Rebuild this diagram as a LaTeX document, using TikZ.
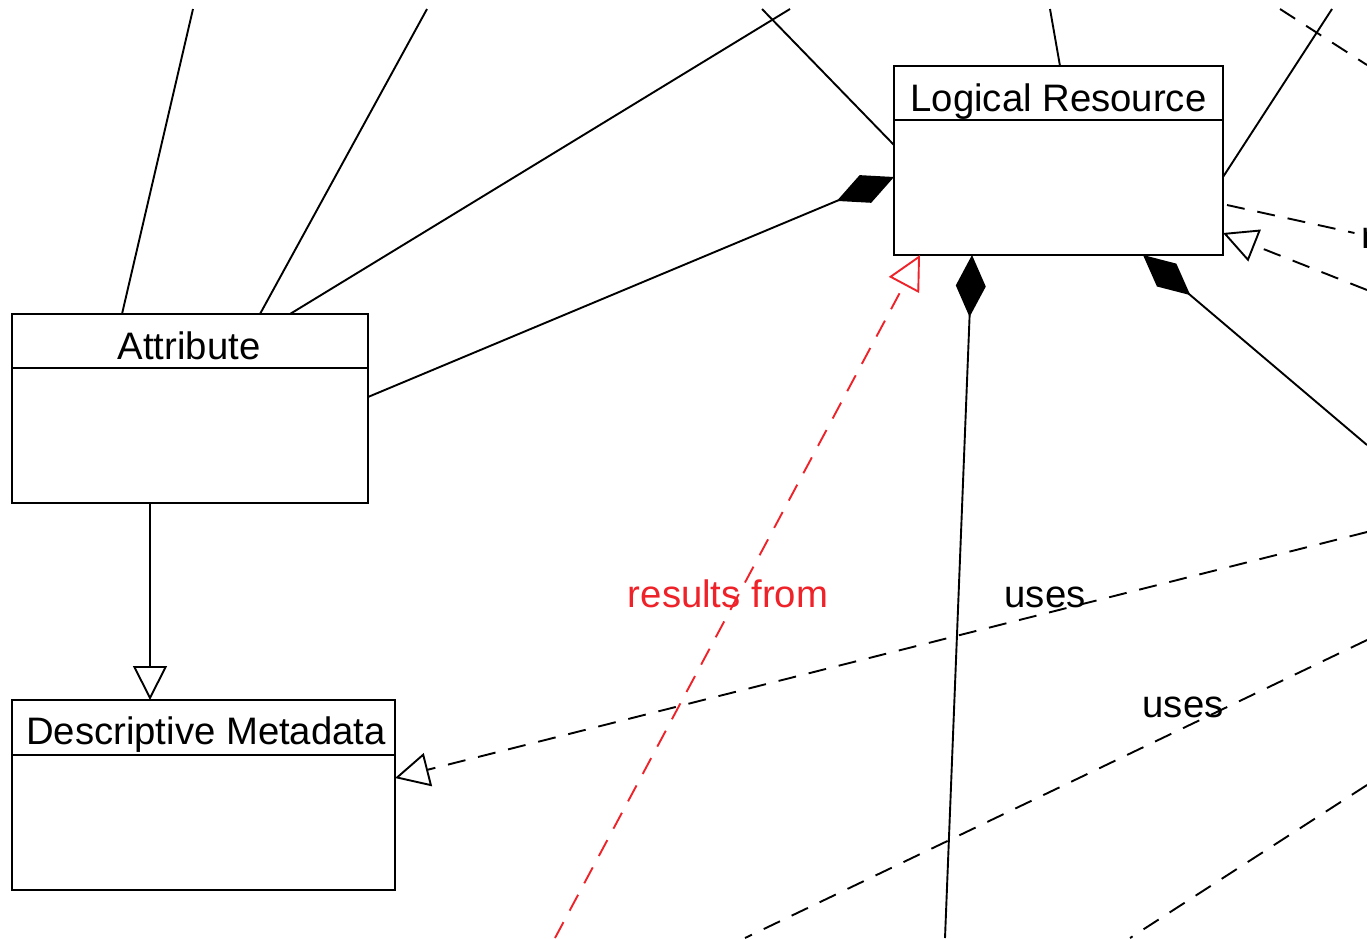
\documentclass[tikz,border=0pt]{standalone}
\usepackage{fontspec}
\setmainfont{Liberation Sans}
\usetikzlibrary{arrows.meta,calc}
\definecolor{umlred}{RGB}{238,34,40}
\begin{document}
\begin{tikzpicture}[x=1pt,y=-1pt,line width=1.9pt,
  box/.style={draw, rectangle, outer sep=0pt, inner sep=0pt, anchor=north west},
  lbl/.style={font=\fontsize{38.3}{46}\selectfont, inner sep=0pt, anchor=base},
  gen/.style={-{Triangle[length=34pt,width=34pt,fill=white]}},
  comp/.style={-{Diamond[length=62pt,width=30pt]}},
  dsh/.style={dash pattern=on 18pt off 13pt}]
\useasboundingbox (0,0) rectangle (1367,938);
\clip (0,0) rectangle (1367,938);

% boxes
\node[box, minimum width=329pt, minimum height=189pt] (LR) at (894,66) {};
\draw ($(LR.north west)+(0,54)$) -- ($(LR.north east)+(0,54)$);
\node[lbl] (LRt) at (1058.5,111) {Logical Resource};

\node[box, minimum width=356pt, minimum height=189pt] (At) at (12,314) {};
\draw ($(At.north west)+(0,54)$) -- ($(At.north east)+(0,54)$);
\node[lbl] (Att) at (189,359) {Attribute};

\node[box, minimum width=383pt, minimum height=190pt] (DM) at (12,700) {};
\draw ($(DM.north west)+(0,55)$) -- ($(DM.north east)+(0,55)$);
\node[lbl] (DMt) at (206,744) {Descriptive Metadata};

% free ends
\coordinate (a1) at (193,9);
\coordinate (a2) at (427,9);
\coordinate (a3) at (790,9);
\coordinate (c1) at (762,9);
\coordinate (c2) at (1050,9);
\coordinate (c3) at (1332,9);
\coordinate (d1a) at (1280,9);
\coordinate (d1b) at (1367,65);
\coordinate (d3) at (1367,290);
\coordinate (k1) at (1367,445);
\coordinate (k2) at (945,938);
\coordinate (r0) at (555,938);
\coordinate (u1) at (1367,532);
\coordinate (u2a) at (1367,640);
\coordinate (u2b) at (745,938);
\coordinate (u3a) at (1367,785);
\coordinate (u3b) at (1130,938);

% solid associations
\draw (a1) -- ($(At.north west)+(110,0)$);
\draw (a2) -- ($(At.north west)+(248,0)$);
\draw (a3) -- ($(At.north west)+(278,0)$);
\draw (c1) -- ($(LR.north west)+(0,79)$);
\draw (c2) -- ($(LR.north west)+(166,0)$);
\draw (c3) -- ($(LR.north east)+(0,111)$);

% dashed
\draw[dsh] (d1a) -- (d1b);
\node[lbl, anchor=base west] (rl) at (1360.5,248) {r};
\draw[dsh] ($(LR.north east)+(4,139)$) -- ($(rl.base west)+(-6,-15)$);
\draw[dsh, gen] (d3) -- ($(LR.north east)+(0,167)$);

% compositions
\draw[comp] (k1) -- ($(LR.south west)+(249,0)$);
\draw[comp] (k2) -- ($(LR.south west)+(78,0)$);
\draw[comp] ($(At.north east)+(0,83)$) -- ($(LR.north west)+(0,111)$);

% realization (red)
\draw[umlred, dsh, gen] (r0) -- ($(LR.south west)+(26,0)$);
\node[lbl, text=umlred] (rf) at (728,607) {results from};

% generalization
\draw[gen] ($(At.south west)+(138,0)$) -- ($(DM.north west)+(138,0)$);

% uses
\draw[dsh, gen] (u1) -- ($(DM.north east)+(0,78)$);
\node[lbl] (us1) at (1045,607) {uses};
\draw[dsh] (u2a) -- (u2b);
\node[lbl] (us2) at (1183,717) {uses};
\draw[dsh] (u3a) -- (u3b);
\end{tikzpicture}
\end{document}
